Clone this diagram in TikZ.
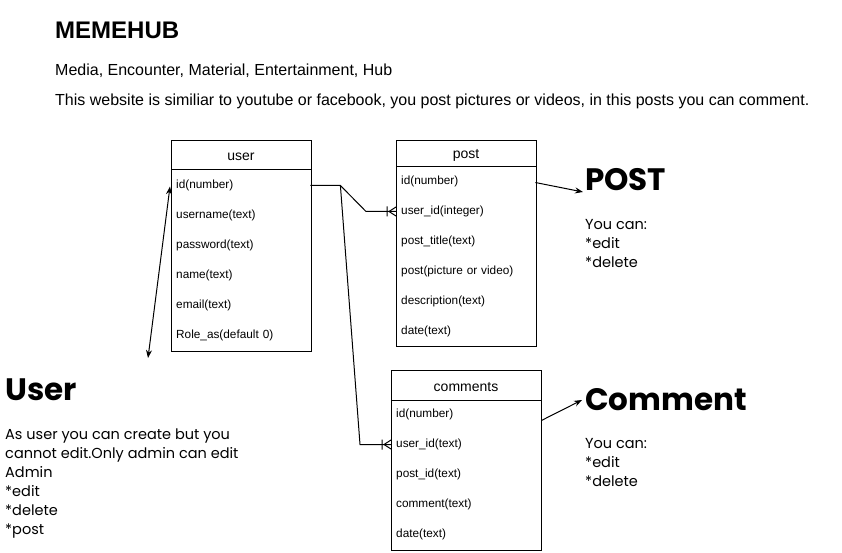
\documentclass[tikz,border=0pt]{standalone}
\usepackage{fontspec}
\setmainfont{Liberation Sans}
\newfontfamily\comic{Poppins}
\usetikzlibrary{arrows.meta,calc}
\tikzset{
  tbl/.style={draw, line width=1pt, anchor=north west, inner sep=0pt},
  hdr/.style={font=\fontsize{14}{16}\selectfont, inner sep=0pt},
  rowu/.style={anchor=west, inner xsep=5pt, inner ysep=0pt, text width=129pt, align=left, font=\fontsize{11.8}{13}\selectfont},
  rowp/.style={rowu, text width=129pt},
  rowc/.style={rowu, text width=140pt},
  conn/.style={line width=1pt},
  arr/.style={line width=1pt, -{Stealth[length=8pt,width=6pt]}},
  big/.style={anchor=west, inner sep=0pt, font=\comic\bfseries\fontsize{31}{36}\selectfont},
  note/.style={anchor=north west, inner sep=0pt, align=left, font=\comic\fontsize{14.5}{19}\selectfont},
  crow/.pic={\draw[line width=1pt] (-9,-5)--(-9,5) (-7,0)--(0,-4.5) (-7,0)--(0,4.5);}
}
\begin{document}
\begin{tikzpicture}[x=1pt,y=-1pt]
\useasboundingbox[fill=white] (0,0) rectangle (842,553);

% title block
\node[anchor=west, inner sep=0pt, font=\bfseries\fontsize{24}{28}\selectfont] (title) at (55,30) {MEMEHUB};
\node[anchor=west, inner sep=0pt, font=\fontsize{16}{18}\selectfont] (sub1) at (55,71) {Media, Encounter, Material, Entertainment, Hub};
\node[anchor=west, inner sep=0pt, font=\fontsize{16}{18}\selectfont] (sub2) at (55,101) {This website is similiar to youtube or facebook, you post pictures or videos, in this posts you can comment.};

% user table
\node[tbl, minimum width=140pt, minimum height=211pt] (user) at (171,140) {};
\draw[line width=1pt] (171,170) -- (311,170);
\node[hdr] (userh) at (241,157) {user};
\node[rowu] (u1) at (171,185.5) {id(number)};
\node[rowu] (u2) at (171,215.5) {username(text)};
\node[rowu] (u3) at (171,245.5) {password(text)};
\node[rowu] (u4) at (171,275.5) {name(text)};
\node[rowu] (u5) at (171,305.5) {email(text)};
\node[rowu] (u6) at (171,335.5) {Role\_as(default 0)};

% post table
\node[tbl, minimum width=140pt, minimum height=206pt] (post) at (396,140) {};
\draw[line width=1pt] (396,167) -- (536,167);
\node[hdr] (posth) at (466,155) {post};
\node[rowp] (p1) at (396,181.5) {id(number)};
\node[rowp] (p2) at (396,211.5) {user\_id(integer)};
\node[rowp] (p3) at (396,241.5) {post\_title(text)};
\node[rowp] (p4) at (396,271.5) {post(picture or video)};
\node[rowp] (p5) at (396,301.5) {description(text)};
\node[rowp] (p6) at (396,331.5) {date(text)};

% comments table
\node[tbl, minimum width=150pt, minimum height=180pt] (comm) at (391,370) {};
\draw[line width=1pt] (391,400) -- (541,400);
\node[hdr] (commh) at (466,387) {comments};
\node[rowc] (c1) at (391,414.5) {id(number)};
\node[rowc] (c2) at (391,444.5) {user\_id(text)};
\node[rowc] (c3) at (391,474.5) {post\_id(text)};
\node[rowc] (c4) at (391,504.5) {comment(text)};
\node[rowc] (c5) at (391,534.5) {date(text)};

% relations
\coordinate (j) at ($(u1.east)+(30,0)$);
\draw[conn] (u1.east) -- (j) -- ($(p2.west)+(-30,0)$) -- (p2.west);
\pic at (p2.west) {crow};
\draw[conn] (j) -- ($(c2.west)+(-31,0)$) -- (c2.west);
\pic at (c2.west) {crow};

% side labels
\node[big] (lpost) at (585,180) {POST};
\node[note] (npost) at (585,219) {You can:\\*edit\\*delete};
\node[big] (lcomm) at (585,400) {Comment};
\node[note] (ncomm) at (585,438) {You can:\\*edit\\*delete};
\node[big] (luser) at (5,390) {User};
\node[note] (nuser) at (5,429) {As user you can create but you\\cannot edit.Only admin can edit\\Admin\\*edit\\*delete\\*post};

\draw[arr] ($(p1.east)+(0,1)$) -- ($(lpost.west)+(-2,12)$);
\draw[arr] ($(c1.east)+(0,6)$) -- ($(lcomm.west)+(-3,0)$);
\coordinate (ua) at (148,358);
\draw[line width=1pt, {Stealth[length=8pt,width=6pt]}-{Stealth[length=8pt,width=6pt]}] (ua) -- ($(u1.west)+(-1,1)$);
\end{tikzpicture}
\end{document}
